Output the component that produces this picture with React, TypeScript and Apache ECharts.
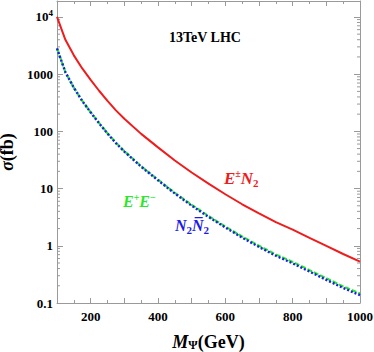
import React, { useEffect, useRef } from 'react';
import * as echarts from 'echarts';

// M_Psi (GeV)
const masses = [100, 125, 150, 175, 200, 225, 250, 275, 300, 350, 400, 450, 500, 550, 600, 650, 700, 750, 800, 850, 900, 950, 1000];
// sigma (fb)
const sigmaEN = [10000, 3981, 2133, 1259, 794, 513, 341, 233, 166, 90.4, 52.5, 31.0, 19.1, 12.2, 7.96, 5.32, 3.68, 2.59, 1.92, 1.38, 0.993, 0.718, 0.527];
const sigmaEE = [2820, 1083, 580, 342, 216, 140, 92.8, 63.4, 45.2, 24.6, 14.3, 8.43, 5.2, 3.32, 2.17, 1.45, 1.0, 0.705, 0.522, 0.375, 0.27, 0.195, 0.146];
const sigmaNN = [2820, 1080, 578, 340, 214, 138.5, 91.6, 62.4, 44.4, 24.1, 13.95, 8.2, 5.03, 3.2, 2.09, 1.39, 0.955, 0.67, 0.494, 0.354, 0.254, 0.183, 0.137];

const xTickLabels = ['200', '400', '600', '800', '1000'];
const yDecadeLabels = ['0.1', '1', '10', '100', '1000', '10^4'];
const yDecades = [0.1, 1, 10, 100, 1000, 10000];
const minorMultipliers = [2, 3, 4, 5, 6, 7, 8, 9];

const X_MIN = 100;
const X_MAX = 1000;
const Y_MIN = 0.1;
const Y_MAX = 19000;

const FONT = 'Liberation Serif';
const AXIS_COLOR = '#9a9a9a';
const RED = '#ee1c1c';
const GREEN = '#2ae82a';
const BLUE = '#1c1ce8';

export default function App() {
  const ref = useRef<HTMLDivElement>(null);

  useEffect(() => {
    const chart = echarts.init(ref.current!, null, { renderer: 'svg' });

    const minorY: number[][] = [];
    yDecades.forEach((d) => {
      minorMultipliers.forEach((m) => {
        const v = d * m;
        if (v < Y_MAX) minorY.push([X_MIN, v]);
      });
    });

    const pair = (ys: number[]) => masses.map((m, i) => [m, ys[i]]);

    const yLabel = (v: number) => {
      const lg = Math.log10(v);
      const e = Math.round(lg);
      if (Math.abs(lg - e) > 1e-6) return '';
      const idx = yDecades.findIndex((d) => Math.abs(Math.log10(d) - e) < 1e-6);
      if (idx < 0) return '';
      const s = yDecadeLabels[idx];
      if (s.indexOf('^') >= 0) {
        const [b, p] = s.split('^');
        return `{b|${b}}{e|${p}}`;
      }
      return `{b|${s}}`;
    };

    const xLabel = (v: number) => {
      const s = String(Math.round(v));
      return xTickLabels.indexOf(s) >= 0 ? s : '';
    };

    const baseX = {
      type: 'value' as const,
      min: X_MIN,
      max: X_MAX,
      interval: 100,
      axisLine: { show: true, onZero: false, lineStyle: { color: AXIS_COLOR, width: 1 } },
      axisTick: { show: true, inside: true, length: 5, lineStyle: { color: AXIS_COLOR } },
      minorTick: { show: true, splitNumber: 2, length: 3, lineStyle: { color: AXIS_COLOR } },
      splitLine: { show: false },
    };

    const baseY = {
      type: 'log' as const,
      logBase: 10,
      min: Y_MIN,
      max: Y_MAX,
      axisLine: { show: true, onZero: false, lineStyle: { color: AXIS_COLOR, width: 1 } },
      axisTick: { show: true, inside: true, length: 6, lineStyle: { color: AXIS_COLOR } },
      splitLine: { show: false },
    };

    const option: any = {
      animation: false,
      backgroundColor: '#ffffff',
      textStyle: { fontFamily: FONT },
      grid: { left: 57, right: 14, top: 1, bottom: 49, containLabel: false, outerBoundsMode: 'none' },
      xAxis: [
        {
          ...baseX,
          position: 'bottom',
          axisLabel: {
            show: true,
            margin: 7,
            formatter: xLabel,
            fontFamily: FONT,
            fontWeight: 'bold',
            fontSize: 13,
            color: '#000',
            showMinLabel: false,
          },
          name: '{i|M}{s|Ψ}{b|(GeV)}',
          nameLocation: 'middle',
          nameGap: 30,
          nameTextStyle: {
            fontFamily: FONT,
            rich: {
              i: { fontFamily: FONT, fontStyle: 'italic', fontWeight: 'bold', fontSize: 18, color: '#000', lineHeight: 18, verticalAlign: 'middle' },
              s: { fontFamily: FONT, fontWeight: 'bold', fontSize: 12, color: '#000', lineHeight: 12, verticalAlign: 'bottom' },
              b: { fontFamily: FONT, fontWeight: 'bold', fontSize: 18, color: '#000', lineHeight: 18, verticalAlign: 'middle' },
            },
          },
        },
        {
          ...baseX,
          position: 'top',
          axisLabel: { show: false },
        },
      ],
      yAxis: [
        {
          ...baseY,
          position: 'left',
          axisLabel: {
            show: true,
            margin: 4,
            formatter: yLabel,
            fontFamily: FONT,
            fontWeight: 'bold',
            fontSize: 13,
            color: '#000',
            showMaxLabel: false,
            rich: {
              b: { fontFamily: FONT, fontWeight: 'bold', fontSize: 13, color: '#000', lineHeight: 16, verticalAlign: 'middle' },
              e: { fontFamily: FONT, fontWeight: 'bold', fontSize: 9, color: '#000', lineHeight: 10, verticalAlign: 'top' },
            },
          },
          name: '{i|σ}{b|(fb)}',
          nameLocation: 'middle',
          nameGap: 30,
          nameRotate: 90,
          nameTextStyle: {
            fontFamily: FONT,
            rich: {
              i: { fontFamily: FONT, fontStyle: 'italic', fontWeight: 'bold', fontSize: 18, color: '#000', lineHeight: 18 },
              b: { fontFamily: FONT, fontWeight: 'bold', fontSize: 18, color: '#000', lineHeight: 18 },
            },
          },
        },
        {
          ...baseY,
          position: 'right',
          axisLabel: { show: false },
        },
      ],
      series: [
        {
          type: 'custom',
          name: 'minorY',
          silent: true,
          xAxisIndex: 0,
          yAxisIndex: 0,
          clip: false,
          data: minorY,
          renderItem: (params: any, api: any) => {
            const v = api.value(1);
            const l = api.coord([X_MIN, v]);
            const r = api.coord([X_MAX, v]);
            const st = { stroke: AXIS_COLOR, lineWidth: 1 };
            return {
              type: 'group',
              children: [
                { type: 'line', shape: { x1: l[0], y1: l[1], x2: l[0] + 3, y2: l[1] }, style: st },
                { type: 'line', shape: { x1: r[0] - 3, y1: r[1], x2: r[0], y2: r[1] }, style: st },
              ],
            };
          },
        },
        {
          type: 'line',
          name: 'E±N2',
          data: pair(sigmaEN),
          showSymbol: false,
          smooth: false,
          lineStyle: { color: RED, width: 2 },
          z: 3,
        },
        {
          type: 'line',
          name: 'E+E-',
          data: pair(sigmaEE),
          showSymbol: false,
          smooth: false,
          lineStyle: { color: GREEN, width: 2.2, type: [5, 2] },
          z: 3,
        },
        {
          type: 'line',
          name: 'N2N2bar',
          data: pair(sigmaNN),
          showSymbol: false,
          smooth: false,
          lineStyle: { color: BLUE, width: 2.4, type: [2, 2] },
          z: 4,
        },
      ],
      graphic: [
        {
          type: 'text',
          left: 169,
          top: 30,
          style: { text: '13TeV LHC', fontFamily: FONT, fontWeight: 'bold', fontSize: 14, fill: '#000' },
        },
        {
          type: 'text',
          left: 224,
          top: 168,
          style: {
            text: '{m|E}{p|±}{m|N}{s|2}',
            rich: {
              m: { fontFamily: FONT, fontStyle: 'italic', fontWeight: 'bold', fontSize: 17, fill: RED, lineHeight: 20, verticalAlign: 'middle' },
              p: { fontFamily: FONT, fontWeight: 'bold', fontSize: 10, fill: RED, lineHeight: 11, verticalAlign: 'top' },
              s: { fontFamily: FONT, fontWeight: 'bold', fontSize: 11, fill: RED, lineHeight: 11, verticalAlign: 'bottom' },
            },
          },
        },
        {
          type: 'text',
          left: 123,
          top: 192,
          style: {
            text: '{m|E}{p|+}{m|E}{p|−}',
            rich: {
              m: { fontFamily: FONT, fontStyle: 'italic', fontWeight: 'bold', fontSize: 16, fill: GREEN, lineHeight: 19, verticalAlign: 'middle' },
              p: { fontFamily: FONT, fontWeight: 'bold', fontSize: 10, fill: GREEN, lineHeight: 11, verticalAlign: 'top' },
            },
          },
        },
        {
          type: 'text',
          left: 175,
          top: 217,
          style: {
            text: '{m|N}{s|2}{m|N\u0305}{s|2}',
            rich: {
              m: { fontFamily: FONT, fontStyle: 'italic', fontWeight: 'bold', fontSize: 16, fill: BLUE, lineHeight: 20, verticalAlign: 'middle' },
              s: { fontFamily: FONT, fontWeight: 'bold', fontSize: 11, fill: BLUE, lineHeight: 11, verticalAlign: 'bottom' },
            },
          },
        },
      ],
    };

    chart.setOption(option);
    return () => chart.dispose();
  }, []);

  return (
    <div
      ref={ref}
      style={{ position: 'fixed', left: 0, top: 0, width: 374, height: 352, background: '#fff' }}
    />
  );
}
